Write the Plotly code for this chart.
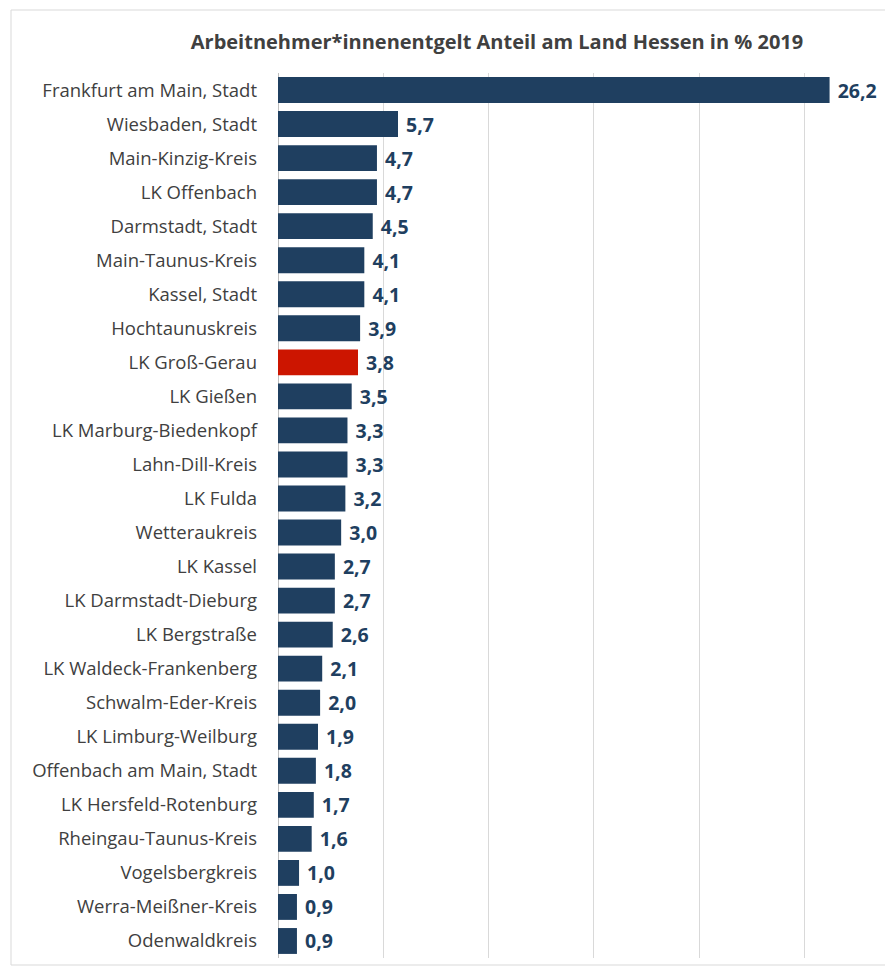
import plotly.graph_objects as go

categories = ["Frankfurt am Main, Stadt", "Wiesbaden, Stadt", "Main-Kinzig-Kreis", "LK Offenbach",
              "Darmstadt, Stadt", "Main-Taunus-Kreis", "Kassel, Stadt", "Hochtaunuskreis",
              "LK Groß-Gerau", "LK Gießen", "LK Marburg-Biedenkopf", "Lahn-Dill-Kreis", "LK Fulda",
              "Wetteraukreis", "LK Kassel", "LK Darmstadt-Dieburg", "LK Bergstraße",
              "LK Waldeck-Frankenberg", "Schwalm-Eder-Kreis", "LK Limburg-Weilburg",
              "Offenbach am Main, Stadt", "LK Hersfeld-Rotenburg", "Rheingau-Taunus-Kreis",
              "Vogelsbergkreis", "Werra-Meißner-Kreis", "Odenwaldkreis"]
values = [26.2, 5.7, 4.7, 4.7, 4.5, 4.1, 4.1, 3.9, 3.8, 3.5, 3.3, 3.3, 3.2, 3.0, 2.7, 2.7, 2.6,
          2.1, 2.0, 1.9, 1.8, 1.7, 1.6, 1.0, 0.9, 0.9]
highlight = "LK Groß-Gerau"

navy = "#1F3F60"
red = "#CC1500"
colors = [red if c == highlight else navy for c in categories]
labels = ["\u00a0" + f"{v:.1f}".replace(".", ",") for v in values]

# page is offset 8px by the browser's default body margin
OFF = 8
W, H = 893 - OFF, 973 - OFF
L = 278 - OFF
T = 73 - OFF
R = W - (878 - OFF)
B = H - (958 - OFF)

fig = go.Figure(go.Bar(
    x=values, y=categories, orientation="h",
    marker=dict(color=colors, line=dict(width=0)),
    text=labels, textposition="outside", cliponaxis=False, constraintext="none",
    textfont=dict(family="Open Sans", size=19.5, color="#1F3F60", weight="bold"),
))

pw = W - L - R
ph = H - T - B
def px2paper_x(px):
    return (px - OFF - L) / pw
def py2paper_y(py):
    return 1 - (py - OFF - T) / ph

fig.add_shape(type="rect", xref="paper", yref="paper",
              x0=px2paper_x(11), x1=px2paper_x(886), y0=py2paper_y(965), y1=py2paper_y(10),
              line=dict(color="#D9D9D9", width=1), fillcolor="rgba(0,0,0,0)", layer="below")

fig.update_layout(
    width=W, height=H,
    margin=dict(l=L, r=R, t=T, b=B, autoexpand=False),
    paper_bgcolor="white", plot_bgcolor="white",
    bargap=0.24,
    showlegend=False,
    title=dict(text="<b>Arbeitnehmer*innenentgelt Anteil am Land Hessen in % 2019</b>",
               xref="container", yref="container", x=(497 - OFF) / W, y=1 - (42 - OFF) / H,
               xanchor="center", yanchor="middle",
               font=dict(family="Open Sans", size=20, color="#404040")),
    xaxis=dict(range=[0, 28.5], dtick=5, showticklabels=False, showgrid=True,
               gridcolor="#D9D9D9", gridwidth=1, zeroline=True, zerolinecolor="#BFBFBF",
               zerolinewidth=1, fixedrange=True),
    yaxis=dict(autorange="reversed", showgrid=False, ticks="", ticklabelstandoff=20,
               tickfont=dict(family="Open Sans", size=18.5, color="#404040")),
)

fig.write_html("out.html")
